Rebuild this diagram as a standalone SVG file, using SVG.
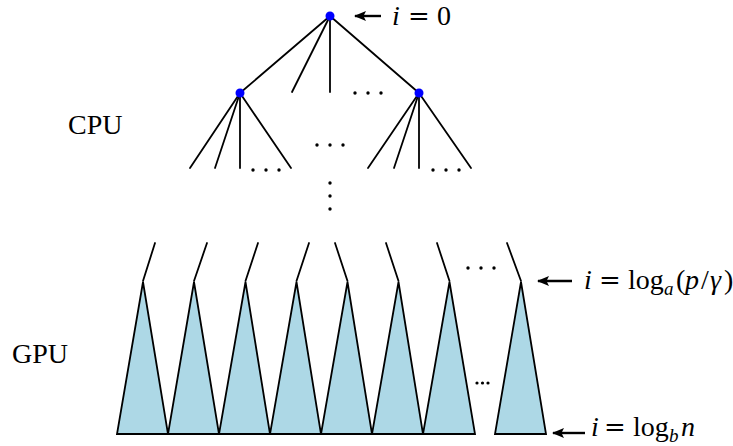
<svg xmlns="http://www.w3.org/2000/svg" width="733" height="446" viewBox="0 0 733 446">
<style>
.ln{stroke:#000;stroke-width:1.8;fill:none;stroke-linecap:round}
.tri{fill:#ADD8E6;stroke:#000;stroke-width:1.8;stroke-linejoin:miter}
.node{fill:#0000FF}
.dot{fill:#000}
.lbl{font-family:"Liberation Serif","Times New Roman",serif;font-size:28px;fill:#000}
.mi{font-style:italic}
.sub{font-size:19px;font-style:italic}
.eq{font-family:"DejaVu Serif","Liberation Serif",serif;font-size:26px}
.arr{stroke:#000;stroke-width:2.4;fill:none}
</style>
<defs>
<marker id="ah" markerWidth="12" markerHeight="10" refX="11" refY="5" orient="auto" markerUnits="userSpaceOnUse">
<path d="M0,0 L12,5 L0,10 L2.5,5 Z" fill="#000"/>
</marker>
</defs>
<g id="connectors">
<line class="ln" x1="330" y1="16" x2="240" y2="93"/>
<line class="ln" x1="330" y1="16" x2="292" y2="92"/>
<line class="ln" x1="330" y1="16" x2="330" y2="92"/>
<line class="ln" x1="330" y1="16" x2="419" y2="93"/>
<line class="ln" x1="240" y1="93" x2="190" y2="168"/>
<line class="ln" x1="240" y1="93" x2="215" y2="168"/>
<line class="ln" x1="240" y1="93" x2="240" y2="168"/>
<line class="ln" x1="240" y1="93" x2="291" y2="168"/>
<line class="ln" x1="419" y1="93" x2="368" y2="168"/>
<line class="ln" x1="419" y1="93" x2="394" y2="168"/>
<line class="ln" x1="419" y1="93" x2="419" y2="168"/>
<line class="ln" x1="419" y1="93" x2="471" y2="168"/>
<line class="ln" x1="155" y1="243" x2="143" y2="281"/>
<line class="ln" x1="207" y1="243" x2="194" y2="281"/>
<line class="ln" x1="258" y1="243" x2="245.5" y2="281"/>
<line class="ln" x1="309" y1="243" x2="296.5" y2="281"/>
<line class="ln" x1="335" y1="243" x2="347.5" y2="281"/>
<line class="ln" x1="386" y1="243" x2="398.5" y2="281"/>
<line class="ln" x1="437" y1="243" x2="449.5" y2="281"/>
<line class="ln" x1="507" y1="243" x2="521" y2="281"/>
</g>
<g id="gpu-trees">
<polygon class="tri" points="143,282 117,434 168,434"/>
<polygon class="tri" points="194,282 168,434 219,434"/>
<polygon class="tri" points="245.5,282 219,434 270,434"/>
<polygon class="tri" points="296.5,282 270,434 321,434"/>
<polygon class="tri" points="347.5,282 321,434 372,434"/>
<polygon class="tri" points="398.5,282 372,434 423,434"/>
<polygon class="tri" points="449.5,282 423,434 475,434"/>
<polygon class="tri" points="521,282 495,434 546,434"/>
</g>
<g id="nodes">
<g id="root"><circle class="node" cx="330" cy="16" r="4.5"/></g>
<g id="left-child"><circle class="node" cx="240" cy="93" r="4.5"/></g>
<g id="right-child"><circle class="node" cx="419" cy="93" r="4.5"/></g>
</g>
<g id="ellipses">
<circle class="dot" cx="355" cy="93" r="1.7"/><circle class="dot" cx="368" cy="93" r="1.7"/><circle class="dot" cx="381" cy="93" r="1.7"/>
<circle class="dot" cx="317" cy="145" r="1.7"/><circle class="dot" cx="330" cy="145" r="1.7"/><circle class="dot" cx="343" cy="145" r="1.7"/>
<circle class="dot" cx="253" cy="170" r="1.7"/><circle class="dot" cx="266" cy="170" r="1.7"/><circle class="dot" cx="279" cy="170" r="1.7"/>
<circle class="dot" cx="433" cy="170" r="1.7"/><circle class="dot" cx="446" cy="170" r="1.7"/><circle class="dot" cx="459" cy="170" r="1.7"/>
<circle class="dot" cx="330" cy="183" r="1.7"/><circle class="dot" cx="330" cy="196" r="1.7"/><circle class="dot" cx="330" cy="209" r="1.7"/>
<circle class="dot" cx="468" cy="268" r="1.7"/><circle class="dot" cx="481" cy="268" r="1.7"/><circle class="dot" cx="494" cy="268" r="1.7"/>
<circle class="dot" cx="477" cy="383" r="1.6"/><circle class="dot" cx="482.5" cy="383" r="1.6"/><circle class="dot" cx="488" cy="383" r="1.6"/>
</g>
<g id="labels">
<text class="lbl" x="68" y="134">CPU</text>
<text class="lbl" x="12" y="363">GPU</text>
</g>
<g id="level-markers">
<line class="arr" x1="381" y1="16" x2="355" y2="16" marker-end="url(#ah)"/>
<text class="lbl" y="25"><tspan class="mi" x="392">i</tspan><tspan class="eq" x="408">=</tspan><tspan x="437">0</tspan></text>
<line class="arr" x1="572" y1="281" x2="538" y2="281" marker-end="url(#ah)"/>
<text class="lbl" y="289"><tspan class="mi" x="584">i</tspan><tspan class="eq" x="599">=</tspan><tspan x="628">log</tspan><tspan class="sub" x="664" dy="6">a</tspan><tspan x="676" dy="-6">(</tspan><tspan class="mi" x="685">p</tspan><tspan x="701">/</tspan><tspan class="mi" x="710">γ</tspan><tspan x="724">)</tspan></text>
<line class="arr" x1="585" y1="433" x2="553" y2="433" marker-end="url(#ah)"/>
<text class="lbl" y="436"><tspan class="mi" x="591">i</tspan><tspan class="eq" x="604">=</tspan><tspan x="633">log</tspan><tspan class="sub" x="669" dy="6">b</tspan><tspan class="mi" x="681" dy="-6">n</tspan></text>
</g>
</svg>
